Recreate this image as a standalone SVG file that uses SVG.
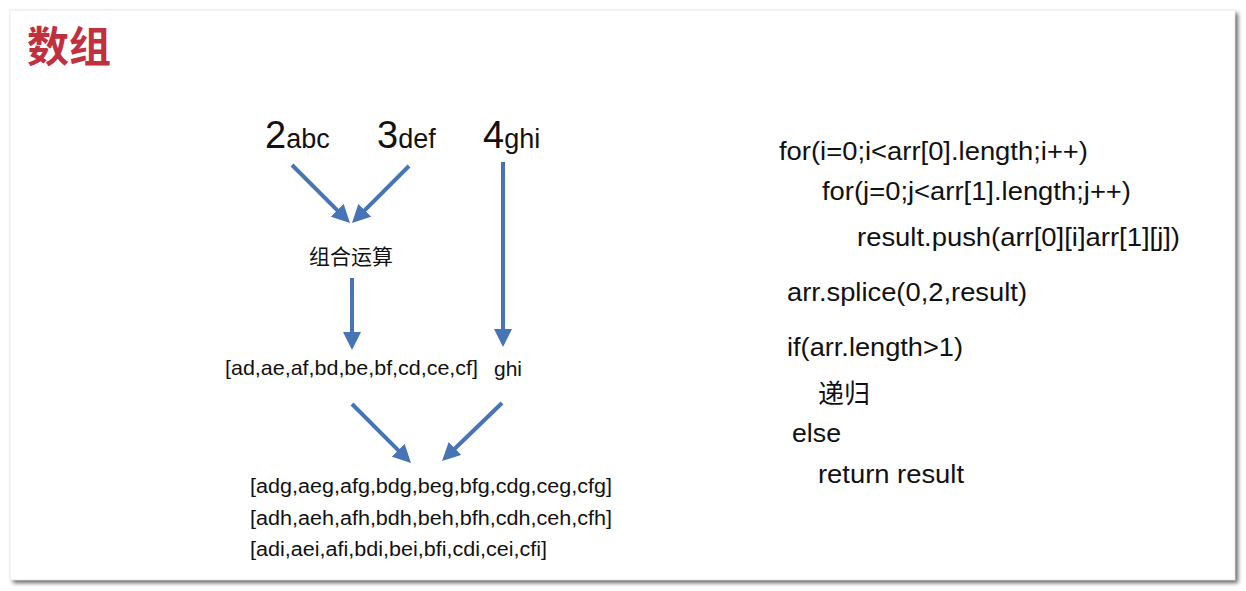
<svg xmlns="http://www.w3.org/2000/svg" width="1246" height="591" viewBox="0 0 1246 591">
<style>
.t{font-family:"Liberation Sans",Arial,"Noto Sans CJK SC",sans-serif;fill:#111}
.cjk{font-family:"Noto Sans CJK SC","Liberation Sans",sans-serif;fill:#111}
.code{font-size:26px}
.arr{stroke:#4674b4;stroke-width:4;fill:none;marker-end:url(#ah)}
</style>
<defs>
<marker id="ah" viewBox="0 0 18 18" refX="4" refY="9" markerWidth="18" markerHeight="18" markerUnits="userSpaceOnUse" orient="auto">
<path d="M0,0 L18,9 L0,18 z" fill="#4674b4"/>
</marker>
<filter id="sh" x="-5%" y="-5%" width="110%" height="110%">
<feDropShadow dx="3" dy="3" stdDeviation="2" flood-color="#000" flood-opacity="0.6"/>
</filter>
</defs>
<rect width="1246" height="591" fill="#fff"/>
<rect x="10" y="10" width="1225" height="570" fill="#fff" filter="url(#sh)"/>
<rect x="10" y="10" width="1225" height="570" fill="#fff" stroke="#e6e6e6" stroke-width="0.8"/>

<g id="title"><text x="27" y="62" class="cjk" style="font-size:42px;font-weight:bold;fill:#c1303f">数组</text></g>

<g id="n2abc"><text x="265" y="148" class="t"><tspan font-size="38">2</tspan><tspan font-size="27">abc</tspan></text></g>
<g id="n3def"><text x="377" y="148" class="t"><tspan font-size="38">3</tspan><tspan font-size="27">def</tspan></text></g>
<g id="n4ghi"><text x="483" y="148" class="t"><tspan font-size="38">4</tspan><tspan font-size="27">ghi</tspan></text></g>

<g id="combine"><text x="351" y="264" text-anchor="middle" class="cjk" font-size="21">组合运算</text></g>
<g id="pairs"><text x="225" y="375" class="t" font-size="21" textLength="253" lengthAdjust="spacingAndGlyphs">[ad,ae,af,bd,be,bf,cd,ce,cf]</text></g>
<g id="ghi"><text x="494" y="376" class="t" font-size="21">ghi</text></g>

<g id="result">
<text x="250" y="493" class="t" font-size="20" textLength="362" lengthAdjust="spacingAndGlyphs">[adg,aeg,afg,bdg,beg,bfg,cdg,ceg,cfg]</text>
<text x="250" y="525" class="t" font-size="20" textLength="362" lengthAdjust="spacingAndGlyphs">[adh,aeh,afh,bdh,beh,bfh,cdh,ceh,cfh]</text>
<text x="250" y="556" class="t" font-size="20" textLength="297" lengthAdjust="spacingAndGlyphs">[adi,aei,afi,bdi,bei,bfi,cdi,cei,cfi]</text>
</g>

<g id="code">
<text x="779" y="160" class="t code" textLength="309" lengthAdjust="spacingAndGlyphs">for(i=0;i&lt;arr[0].length;i++)</text>
<text x="822" y="200" class="t code" textLength="309" lengthAdjust="spacingAndGlyphs">for(j=0;j&lt;arr[1].length;j++)</text>
<text x="857" y="246" class="t code" textLength="323" lengthAdjust="spacingAndGlyphs">result.push(arr[0][i]arr[1][j])</text>
<text x="787" y="301" class="t code" textLength="240" lengthAdjust="spacingAndGlyphs">arr.splice(0,2,result)</text>
<text x="787" y="356" class="t code" textLength="176" lengthAdjust="spacingAndGlyphs">if(arr.length&gt;1)</text>
<text x="818" y="403" class="cjk" font-size="26">递归</text>
<text x="792" y="442" class="t code" textLength="49" lengthAdjust="spacingAndGlyphs">else</text>
<text x="818" y="483" class="t code" textLength="146" lengthAdjust="spacingAndGlyphs">return result</text>
</g>

<g id="connectors">
<line class="arr" x1="292" y1="165" x2="340.1" y2="213.1"/>
<line class="arr" x1="409" y1="166" x2="361.9" y2="213.1"/>
<line class="arr" x1="503" y1="162" x2="503" y2="333"/>
<line class="arr" x1="352" y1="278" x2="352" y2="336"/>
<line class="arr" x1="352" y1="404" x2="401.1" y2="453.1"/>
<line class="arr" x1="502" y1="403" x2="452.1" y2="451.3"/>
</g>
</svg>
